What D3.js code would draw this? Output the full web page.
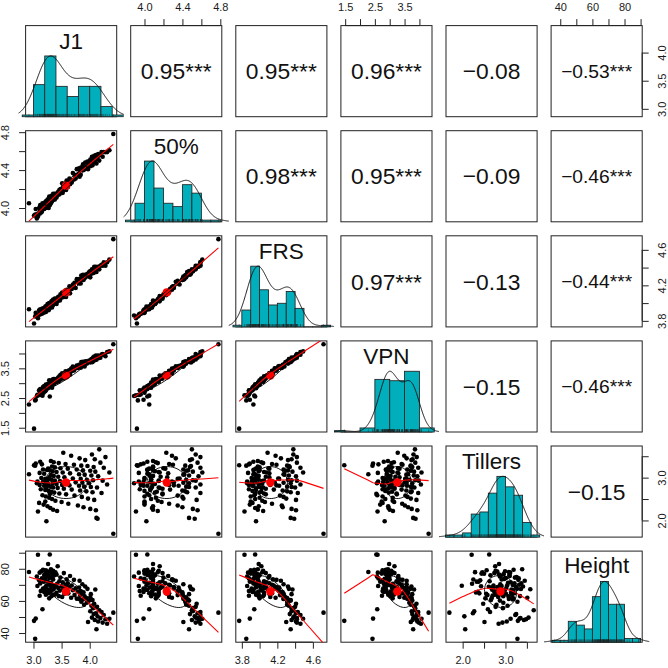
<!DOCTYPE html>
<html><head><meta charset="utf-8">
<script src="https://cdn.jsdelivr.net/npm/d3@7"></script>
<style>
body{margin:0;background:#fff}
svg{display:block}
text{font-family:"Liberation Sans",Arial,Helvetica,sans-serif}
</style>
</head><body>
<svg id="chart" width="668" height="668"></svg>
<script>
// ---------------- data ----------------
const varNames = ["J1", "50%", "FRS", "VPN", "Tillers", "Height"];

const J1 = [
2.92,3.01,3.03,3.04,3.06,3.07,3.08,3.10,3.11,3.11,
3.12,3.13,3.14,3.15,3.16,3.17,3.17,3.18,3.19,3.19,
3.21,3.21,3.21,3.22,3.22,3.23,3.24,3.24,3.25,3.25,
3.26,3.26,3.27,3.27,3.28,3.28,3.29,3.29,3.30,3.30,
3.31,3.31,3.32,3.32,3.33,3.33,3.34,3.34,3.35,3.35,
3.36,3.36,3.37,3.38,3.38,3.39,3.41,3.41,3.42,3.43,
3.44,3.45,3.46,3.47,3.48,3.50,3.51,3.52,3.53,3.54,
3.55,3.57,3.58,3.59,3.61,3.62,3.64,3.65,3.67,3.68,
3.70,3.72,3.73,3.75,3.77,3.79,3.81,3.81,3.82,3.83,
3.84,3.85,3.86,3.87,3.88,3.89,3.90,3.91,3.92,3.94,
3.95,3.96,3.97,3.99,4.01,4.01,4.02,4.03,4.04,4.05,
4.06,4.07,4.08,4.09,4.10,4.11,4.12,4.13,4.14,4.15,
4.17,4.19,4.21,4.23,4.25,4.28,4.31,4.35,4.42];

const P50 = [
4.05,3.92,3.93,3.99,3.89,3.94,3.91,4.00,3.96,3.94,
4.03,3.95,4.00,3.96,4.05,3.99,4.03,4.00,3.99,4.03,
4.00,4.06,4.00,4.07,4.00,4.02,4.06,4.03,4.09,4.03,
4.05,4.09,4.00,4.07,4.07,4.12,4.03,4.09,4.08,4.08,
4.05,4.09,4.13,4.07,4.09,4.07,4.09,4.11,4.09,4.15,
4.09,4.12,4.11,4.15,4.09,4.14,4.11,4.15,4.14,4.16,
4.17,4.14,4.19,4.15,4.20,4.18,4.26,4.16,4.23,4.19,
4.24,4.26,4.19,4.29,4.22,4.26,4.31,4.25,4.29,4.27,
4.37,4.30,4.35,4.31,4.41,4.35,4.36,4.42,4.33,4.40,
4.35,4.43,4.40,4.41,4.46,4.40,4.44,4.41,4.48,4.43,
4.44,4.49,4.41,4.47,4.44,4.51,4.47,4.47,4.54,4.45,
4.51,4.48,4.55,4.50,4.51,4.56,4.47,4.54,4.53,4.57,
4.50,4.56,4.59,4.54,4.59,4.59,4.59,4.61,4.78];

const FRS = [
3.93,3.77,3.85,3.89,3.86,3.86,3.83,3.92,3.88,3.87,
3.93,3.88,3.91,3.88,3.94,3.91,3.94,3.89,3.92,3.94,
3.90,3.96,3.93,3.96,3.90,3.96,3.95,3.93,3.99,3.93,
3.96,3.99,3.92,3.97,3.97,4.00,3.95,4.00,3.95,3.99,
3.96,3.98,4.02,3.99,3.98,3.95,4.03,3.99,3.98,4.04,
3.99,4.02,4.00,4.05,4.00,4.03,3.99,4.05,4.04,4.02,
4.07,4.04,4.05,4.03,4.10,4.06,4.12,4.08,4.09,4.07,
4.11,4.14,4.07,4.15,4.11,4.14,4.19,4.11,4.18,4.16,
4.21,4.19,4.23,4.17,4.27,4.25,4.22,4.27,4.24,4.26,
4.22,4.31,4.27,4.27,4.32,4.26,4.31,4.28,4.32,4.31,
4.32,4.33,4.30,4.35,4.29,4.36,4.36,4.33,4.38,4.35,
4.36,4.34,4.41,4.36,4.37,4.41,4.35,4.40,4.39,4.41,
4.38,4.42,4.43,4.42,4.46,4.42,4.46,4.49,4.72];

const VPN = [
2.28,1.47,2.42,2.44,2.57,2.61,2.59,2.76,2.74,2.60,
2.80,2.76,2.76,2.62,2.58,2.78,2.87,2.68,2.81,2.90,
2.73,2.86,2.83,2.95,2.76,2.83,2.92,2.88,2.95,2.82,
2.94,2.98,2.85,2.89,2.92,3.10,2.55,2.95,2.96,3.02,
2.92,2.94,3.08,3.02,2.98,2.85,3.12,3.05,3.00,3.05,
3.03,3.14,2.97,3.14,3.07,3.10,3.04,3.10,3.11,3.16,
3.19,3.06,3.23,3.11,3.28,3.15,3.33,3.26,3.27,3.16,
3.33,3.40,3.24,3.33,3.33,3.42,3.43,3.29,3.49,3.40,
3.56,3.43,3.53,3.50,3.59,3.51,3.58,3.62,3.57,3.56,
3.52,3.71,3.60,3.57,3.72,3.62,3.71,3.56,3.73,3.74,
3.66,3.70,3.71,3.76,3.70,3.74,3.76,3.81,3.80,3.71,
3.86,3.76,3.90,3.77,3.82,3.93,3.79,3.83,3.87,3.93,
3.85,3.86,3.96,3.98,3.96,3.91,4.05,4.07,4.31];

const Tillers = [
3.08,3.29,3.28,3.33,2.87,2.91,2.21,2.41,2.83,3.11,
3.37,2.73,2.99,3.31,2.59,2.90,3.19,2.37,2.81,3.09,
2.44,2.71,2.97,2.75,2.56,1.98,2.89,3.18,2.33,2.81,
3.21,2.85,2.69,2.96,3.01,2.53,2.62,3.17,2.29,2.79,
3.06,3.39,2.67,2.95,3.26,2.50,2.86,3.15,2.25,2.77,
3.04,3.36,2.65,2.93,3.24,2.46,2.85,3.13,2.22,2.76,
3.02,3.34,2.63,2.92,3.22,2.43,2.83,3.12,3.58,2.74,
3.01,3.32,2.61,2.91,3.21,2.39,2.82,3.10,3.51,2.72,
2.98,3.30,2.58,2.89,3.19,2.35,2.81,3.08,3.45,2.70,
2.97,3.28,2.55,2.88,3.17,2.31,2.79,3.07,3.41,2.68,
2.95,3.27,2.51,2.87,3.16,2.27,2.78,3.05,3.54,2.66,
2.94,3.25,2.48,3.43,3.14,2.24,2.06,2.77,2.04,3.03,
3.66,3.35,2.64,2.93,3.23,3.48,2.84,3.12,1.69];

const Height = [
78.0,47.6,36.4,49.0,75.2,69.3,88.7,72.8,63.2,77.6,
70.9,66.1,78.5,74.0,54.8,67.7,79.4,71.9,65.5,76.1,
77.0,68.5,73.7,63.8,79.1,69.4,75.8,66.8,72.0,78.2,
64.8,83.0,67.0,76.7,74.2,61.6,88.9,69.9,77.9,65.9,
71.3,79.7,68.1,62.9,74.8,76.9,66.9,64.0,73.3,78.8,
69.7,67.4,75.9,63.9,68.9,77.8,76.4,65.1,70.7,81.6,
68.0,63.0,72.2,66.4,74.5,69.1,62.5,71.6,67.3,77.3,
64.5,70.1,68.8,73.4,71.0,64.7,68.6,75.5,62.0,69.6,
66.6,73.1,63.6,67.8,61.4,65.7,68.3,61.2,72.5,63.4,
66.2,59.5,64.4,70.4,60.9,65.3,57.6,62.8,69.0,61.8,
58.9,67.5,46.9,60.2,62.3,53.6,64.2,57.0,49.6,60.5,
55.5,51.8,58.2,48.1,67.1,52.3,42.4,56.3,50.4,47.2,
54.2,49.3,53.1,46.5,51.2,48.6,45.8,48.9,52.7];

// correlation labels of the upper panels, row by row
const corrRow1 = ["0.95***", "0.95***", "0.96***", "-0.08", "-0.53***"];
const corrRow2 = ["0.98***", "0.95***", "-0.09", "-0.46***"];
const corrRow3 = ["0.97***", "-0.13", "-0.44***"];
const corrRow4 = ["-0.15", "-0.46***"];
const corrRow5 = ["-0.15"];

// histogram bin widths
const binWidth = [0.2, 0.1, 0.1, 0.5, 0.2, 5];

// axis ticks and their printed labels
const tickValues = [
  [3.0, 3.5, 4.0],
  [4.0, 4.2, 4.4, 4.6, 4.8],
  [3.8, 4.0, 4.2, 4.4, 4.6],
  [1.5, 2.0, 2.5, 3.0, 3.5, 4.0],
  [2.0, 2.5, 3.0, 3.5],
  [40, 50, 60, 70, 80, 90]
];
const tickLabels = [
  ["3.0", "3.5", "4.0"],
  ["4.0", "", "4.4", "", "4.8"],
  ["3.8", "", "4.2", "", "4.6"],
  ["1.5", "", "2.5", "", "3.5", ""],
  ["2.0", "", "3.0", ""],
  ["40", "", "60", "", "80", ""]
];

// ---------------- layout ----------------
const data = [J1, P50, FRS, VPN, Tillers, Height];
const corrRows = [corrRow1, corrRow2, corrRow3, corrRow4, corrRow5];
const NV = varNames.length;
const S = 91.1, STEP = 105.1, OFF = 25.6;
const pos = k => OFF + k * STEP;
const histCol = "#00AFBB";
const ink = "#222";

const svg = d3.select("#chart");
const defs = svg.append("defs");

const usr = data.map(v => { const [a, b] = d3.extent(v); const e = 0.04 * (b - a); return [a - e, b + e]; });
const xScales = usr.map((d, k) => d3.scaleLinear().domain(d).range([pos(k), pos(k) + S]));
const yScales = usr.map((d, k) => d3.scaleLinear().domain(d).range([pos(k) + S, pos(k)]));

// ---------------- helpers ----------------
function lowess(xIn, yIn, f, nsteps) {
  const n = xIn.length;
  const ord = d3.range(n).sort((a, b) => (xIn[a] - xIn[b]) || (a - b));
  const x = new Float64Array(n + 1), y = new Float64Array(n + 1);
  ord.forEach((o, k) => { x[k + 1] = xIn[o]; y[k + 1] = yIn[o]; });
  const ys = new Float64Array(n + 1), rw = new Float64Array(n + 1), w = new Float64Array(n + 1), res = new Float64Array(n + 1);
  const delta = 0.01 * (x[n] - x[1]);
  const ns = Math.max(2, Math.min(n, Math.floor(f * n + 1e-7)));
  const range = x[n] - x[1];
  function lowest(xs, nleft, nright, userw) {
    const h = Math.max(xs - x[nleft], x[nright] - xs);
    const h9 = 0.999 * h, h1 = 0.001 * h;
    let a = 0, j = nleft;
    while (j <= n) {
      w[j] = 0;
      const r = Math.abs(x[j] - xs);
      if (r <= h9) {
        if (r <= h1) w[j] = 1; else { const q = r / h; const t = 1 - q * q * q; w[j] = t * t * t; }
        if (userw) w[j] *= rw[j];
        a += w[j];
      } else if (x[j] > xs) break;
      j++;
    }
    const nrt = j - 1;
    if (a <= 0) return null;
    for (j = nleft; j <= nrt; j++) w[j] /= a;
    if (h > 0) {
      a = 0;
      for (j = nleft; j <= nrt; j++) a += w[j] * x[j];
      let b = xs - a, c = 0;
      for (j = nleft; j <= nrt; j++) c += w[j] * (x[j] - a) * (x[j] - a);
      if (Math.sqrt(c) > 0.001 * range) {
        b /= c;
        for (j = nleft; j <= nrt; j++) w[j] *= (b * (x[j] - a) + 1);
      }
    }
    let s = 0;
    for (j = nleft; j <= nrt; j++) s += w[j] * y[j];
    return s;
  }
  let iter = 1;
  while (iter <= nsteps + 1) {
    let nleft = 1, nright = ns, last = 0, i = 1;
    for (;;) {
      if (nright < n) {
        const d1 = x[i] - x[nleft], d2 = x[nright + 1] - x[i];
        if (d1 > d2) { nleft++; nright++; continue; }
      }
      const v = lowest(x[i], nleft, nright, iter > 1);
      ys[i] = (v === null) ? y[i] : v;
      if (last < i - 1) {
        const denom = x[i] - x[last];
        for (let j = last + 1; j < i; j++) {
          const alpha = (x[j] - x[last]) / denom;
          ys[j] = alpha * ys[i] + (1 - alpha) * ys[last];
        }
      }
      last = i;
      const cut = x[last] + delta;
      for (i = last + 1; i <= n; i++) {
        if (x[i] > cut) break;
        if (x[i] === x[last]) { ys[i] = ys[last]; last = i; }
      }
      i = Math.max(last + 1, i - 1);
      if (last >= n) break;
    }
    for (let k = 1; k <= n; k++) res[k] = y[k] - ys[k];
    let sc = 0; for (let k = 1; k <= n; k++) sc += Math.abs(res[k]); sc /= n;
    if (iter > nsteps) break;
    const ar = []; for (let k = 1; k <= n; k++) ar.push(Math.abs(res[k]));
    ar.sort((a, b) => a - b);
    const m1 = Math.floor(n / 2);
    let cmad;
    if (n % 2 === 0) { const m2 = n - m1 - 1; cmad = 3 * (ar[m1] + ar[m2]); } else cmad = 6 * ar[m1];
    if (cmad < 1e-7 * sc) break;
    const c9 = 0.999 * cmad, c1 = 0.001 * cmad;
    for (let k = 1; k <= n; k++) {
      const r = Math.abs(res[k]);
      rw[k] = r <= c1 ? 1 : (r <= c9 ? Math.pow(1 - (r / cmad) * (r / cmad), 2) : 0);
    }
    iter++;
  }
  const out = [];
  for (let k = 1; k <= n; k++) out.push([x[k], ys[k]]);
  return out;
}

function pearson(a, b) {
  const ma = d3.mean(a), mb = d3.mean(b);
  let sab = 0, saa = 0, sbb = 0;
  for (let k = 0; k < a.length; k++) { const da = a[k] - ma, db = b[k] - mb; sab += da * db; saa += da * da; sbb += db * db; }
  return sab / Math.sqrt(saa * sbb);
}

function clipRect(id, x, y, w, h) {
  defs.append("clipPath").attr("id", id).append("rect").attr("x", x).attr("y", y).attr("width", w).attr("height", h);
  return "url(#" + id + ")";
}

// text width measurement for correlation sizing
const meas = svg.append("text").style("font-size", "100px").attr("x", -999).attr("y", -999);
function textW(t) { meas.text(t); return meas.node().getComputedTextLength() / 100; }
const refW = textW("0.12***");
const corrFont = 0.78 * S / refW;

// ---------------- panels ----------------
for (let i = 0; i < NV; i++) {
  for (let j = 0; j < NV; j++) {
    const left = pos(j), top = pos(i);
    const g = svg.append("g");
    g.append("rect").attr("x", left).attr("y", top).attr("width", S).attr("height", S)
      .attr("fill", "none").attr("stroke", ink).attr("stroke-width", 1);

    if (i === j) {
      const v = data[i];
      const xS = xScales[j];
      const yH = d3.scaleLinear().domain([0, 1.5]).range([top + S, top]);
      const gd = g.append("g").attr("clip-path", clipRect("cd" + i, left - 7, top - 7, S + 14, S + 14));
      const wB = binWidth[i];
      const lo = Math.floor(d3.min(v) / wB + 1e-9), hi = Math.ceil(d3.max(v) / wB - 1e-9);
      const th = d3.range(lo, hi + 1).map(k => Math.round(k * wB * 1e6) / 1e6);
      const bins = d3.bin().domain([th[0], th[th.length - 1]]).thresholds(th.slice(1, -1))(v);
      const maxC = d3.max(bins, b => b.length);
      gd.selectAll("rect.bar").data(bins).join("rect").attr("class", "bar")
        .attr("x", b => xS(b.x0)).attr("width", b => xS(b.x1) - xS(b.x0))
        .attr("y", b => yH(b.length / maxC))
        .attr("height", b => Math.max(0.01, yH(0) - yH(b.length / maxC)))
        .attr("fill", histCol).attr("stroke", ink).attr("stroke-width", 0.85);
      const sorted = v.slice().sort(d3.ascending);
      const sd = d3.deviation(v);
      const iqr = d3.quantileSorted(sorted, 0.75) - d3.quantileSorted(sorted, 0.25);
      const bw = 1.2 * 1.06 * Math.min(sd, iqr / 1.34) * Math.pow(v.length, -0.2);
      const from = d3.min(v) - 3 * bw, to = d3.max(v) + 3 * bw;
      const dens = d3.range(512).map(k => {
        const gx = from + k * (to - from) / 511;
        return [gx, d3.sum(v, t => Math.exp(-0.5 * ((gx - t) / bw) * ((gx - t) / bw)))];
      });
      const dmax = d3.max(dens, d => d[1]);
      gd.append("path").datum(dens)
        .attr("d", d3.line().x(d => xS(d[0])).y(d => yH(d[1] / dmax)))
        .attr("fill", "none").attr("stroke", "#111").attr("stroke-width", 1);
      g.append("g").selectAll("line").data(v).join("line")
        .attr("x1", d => xS(d)).attr("x2", d => xS(d))
        .attr("y1", top + S).attr("y2", top + S - 0.03 * S)
        .attr("stroke", "#222").attr("stroke-width", 0.45);
      const hasDesc = /[gjpqy]/.test(varNames[i]);
      g.append("text").attr("x", left + S / 2).attr("y", top + (hasDesc ? 21.6 : 23.4))
        .attr("text-anchor", "middle").style("font-size", "22.5px").attr("fill", "#111")
        .text(varNames[i]);
    } else if (i > j) {
      const xv = data[j], yv = data[i];
      const xS = xScales[j], yS = yScales[i];
      const gl = g.append("g").attr("clip-path", clipRect("cl" + i + "_" + j, left, top, S, S));
      gl.append("g").selectAll("circle").data(xv).join("circle")
        .attr("cx", d => xS(d)).attr("cy", (d, k) => yS(yv[k]))
        .attr("r", 2.3).attr("fill", "#000");
      const lw = lowess(xv, yv, 2 / 3, 3);
      gl.append("path").datum(lw)
        .attr("d", d3.line().x(d => xS(d[0])).y(d => yS(d[1])))
        .attr("fill", "none").attr("stroke", "#ff0000").attr("stroke-width", 1.1);
      const xm = d3.mean(xv), ym = d3.mean(yv), xsd = d3.deviation(xv), ysd = d3.deviation(yv);
      const r = pearson(xv, yv);
      const theta = Math.abs(r) > 0 ? Math.sign(r) / Math.SQRT2 : 1 / Math.SQRT2;
      const ea = Math.sqrt(1 + r), eb = Math.sqrt(1 - r);
      const ell = d3.range(52).map(k => {
        const ang = k * 2 * Math.PI / 51, c = Math.cos(ang), s = Math.sin(ang);
        return [(c * ea * theta - s * eb * theta) * xsd + xm, (c * ea * theta + s * eb * theta) * ysd + ym];
      });
      gl.append("circle").attr("cx", xS(xm)).attr("cy", yS(ym)).attr("r", 4.2).attr("fill", "#ff0000");
      gl.append("path").datum(ell)
        .attr("d", d3.line().x(d => xS(d[0])).y(d => yS(d[1])))
        .attr("fill", "none").attr("stroke", "#000").attr("stroke-width", 0.9);
    } else {
      const raw = corrRows[i][j - i - 1];
      const txt = raw.replace("-", "\u2212");
      const fs = Math.min(corrFont, 0.78 * S / textW(txt));
      g.append("text").attr("x", left + S / 2).attr("y", top + S / 2 + 0.36 * fs)
        .attr("text-anchor", "middle").style("font-size", fs + "px").attr("fill", "#111")
        .text(txt);
    }
  }
}
meas.remove();

// ---------------- axes ----------------
function addAxis(kind, v) {
  const vals = tickValues[v], labs = tickLabels[v];
  const fmt = d => { const k = vals.findIndex(t => Math.abs(t - d) < 1e-9); return k >= 0 ? labs[k] : ""; };
  let axis, tr, scale;
  if (kind === "top") { scale = xScales[v]; axis = d3.axisTop(scale); tr = `translate(0,${pos(0)})`; }
  else if (kind === "bottom") { scale = xScales[v]; axis = d3.axisBottom(scale); tr = `translate(0,${pos(NV - 1) + S})`; }
  else if (kind === "left") { scale = yScales[v]; axis = d3.axisLeft(scale); tr = `translate(${pos(0)},0)`; }
  else { scale = yScales[v]; axis = d3.axisRight(scale); tr = `translate(${pos(NV - 1) + S},0)`; }
  axis.tickValues(vals).tickFormat(fmt).tickSizeInner(6.5).tickSizeOuter(0).tickPadding(8);
  const g = svg.append("g").attr("transform", tr).call(axis);
  g.select(".domain").remove();
  g.selectAll(".tick line").attr("stroke", ink).attr("stroke-width", 1);
  g.selectAll(".tick text").style("font-size", "11px").attr("fill", "#1a1a1a")
    .style("font-family", "'Liberation Sans',Arial,Helvetica,sans-serif");
  const a = scale(vals[0]), b = scale(vals[vals.length - 1]);
  if (kind === "top" || kind === "bottom") {
    g.append("line").attr("x1", a).attr("x2", b).attr("y1", 0).attr("y2", 0).attr("stroke", ink).attr("stroke-width", 1);
  } else {
    g.append("line").attr("y1", a).attr("y2", b).attr("x1", 0).attr("x2", 0).attr("stroke", ink).attr("stroke-width", 1);
    g.selectAll(".tick text").attr("transform", "rotate(-90)").attr("x", 0)
      .attr("y", kind === "left" ? -16.5 : 23.4).attr("dy", null).attr("text-anchor", "middle");
  }
}
for (let k = 0; k < NV; k++) {
  if (k % 2 === 1) { addAxis("top", k); addAxis("left", k); }
  else { addAxis("bottom", k); addAxis("right", k); }
}
</script>
</body></html>
